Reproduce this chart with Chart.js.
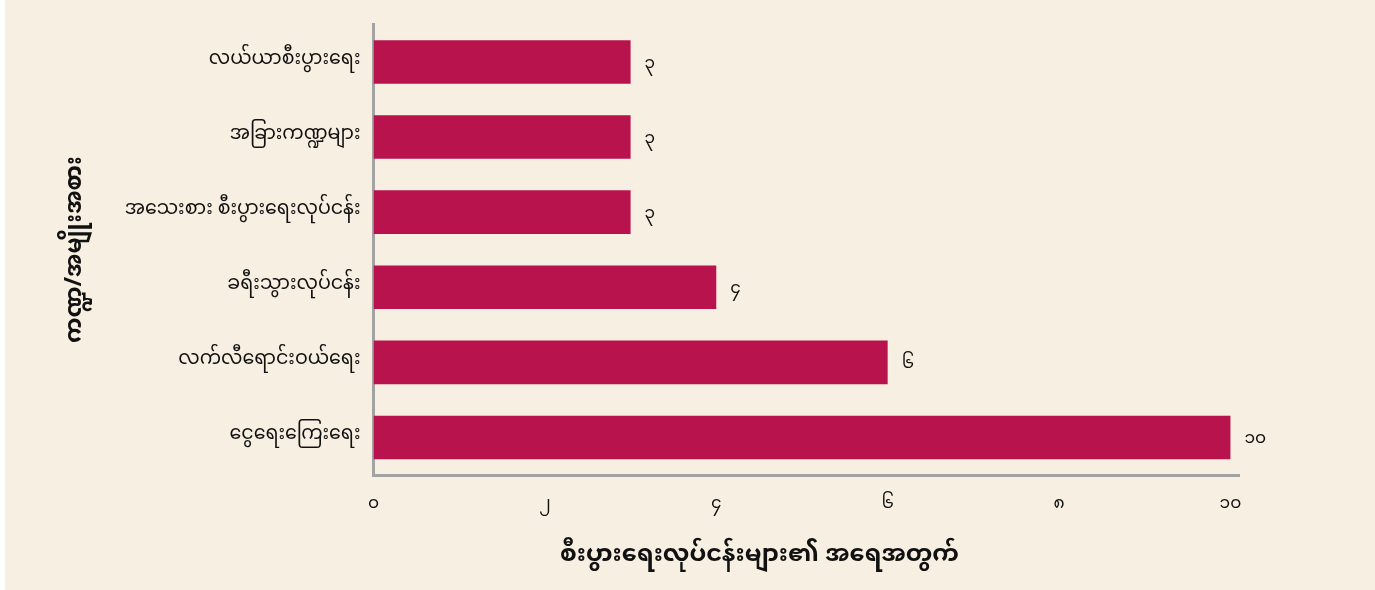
<!DOCTYPE html>
<html>
<head>
<meta charset="utf-8">
<script src="https://cdn.jsdelivr.net/npm/chart.js@4.4.1/dist/chart.umd.min.js"></script>
<style>
  body { margin: 0; background: #ffffff; }
  #chart { position: absolute; left: 5px; top: 0; width: 1370px; height: 590px; background: #f7efe1; }
</style>
</head>
<body>
<div id="chart"><canvas id="myChart" width="1370" height="590"></canvas></div>
<script>
// chart data
var categories = ['လယ်ယာစီးပွားရေး', 'အခြားကဏ္ဍများ', 'အသေးစား စီးပွားရေးလုပ်ငန်း', 'ခရီးသွားလုပ်ငန်း', 'လက်လီရောင်းဝယ်ရေး', 'ငွေရေးကြေးရေး'];
var counts = [3, 3, 3, 4, 6, 10];
var tickValues = [0, 2, 4, 6, 8, 10];
var myanmarDigits = ['၀', '၁', '၂', '၃', '၄', '၅', '၆', '၇', '၈', '၉'];
var xTitle = 'စီးပွားရေးလုပ်ငန်းများ၏ အရေအတွက်';
var yTitle = 'ကဏ္ဍ/အမျိုးအစား';

var fontFamily = "'Noto Sans Myanmar', 'Padauk', 'Myanmar Text', 'Noto Sans', sans-serif";

function toMyanmar(n) {
    return String(n).split('').map(function (d) { return myanmarDigits[+d]; }).join('');
}

// value labels next to each bar
var barLabels = {
    id: 'barLabels',
    afterDatasetsDraw: function (chart) {
        var ctx = chart.ctx;
        var meta = chart.getDatasetMeta(0);
        ctx.save();
        ctx.fillStyle = '#111111';
        ctx.font = '17px ' + fontFamily;
        ctx.textAlign = 'left';
        ctx.textBaseline = 'middle';
        meta.data.forEach(function (bar, i) {
            ctx.fillText(toMyanmar(counts[i]), bar.x + 14, bar.y + 4);
        });
        ctx.restore();
    }
};

// x title sits a bit left of the axis centre in the original
var bottomTitle = {
    id: 'bottomTitle',
    afterDraw: function (chart) {
        var ctx = chart.ctx;
        var area = chart.chartArea;
        ctx.save();
        ctx.fillStyle = '#111111';
        ctx.font = 'bold 24px ' + fontFamily;
        ctx.textAlign = 'center';
        ctx.textBaseline = 'middle';
        ctx.fillText(xTitle, area.left + (area.right - area.left) * 0.446, 558);
        ctx.restore();
    }
};

var ctx = document.getElementById('myChart').getContext('2d');
var myChart = new Chart(ctx, {
    type: 'bar',
    data: {
        labels: categories,
        datasets: [{
            data: counts,
            backgroundColor: '#b8134c',
            borderWidth: 0,
            barPercentage: 0.58,
            categoryPercentage: 1
        }]
    },
    options: {
        indexAxis: 'y',
        responsive: false,
        animation: false,
        layout: { padding: { left: 60, top: 19, right: 136, bottom: 0 } },
        plugins: {
            legend: { display: false },
            tooltip: { enabled: false }
        },
        scales: {
            x: {
                min: 0,
                max: 10.1,
                afterBuildTicks: function (axis) {
                    axis.ticks = tickValues.map(function (v) { return { value: v }; });
                },
                afterFit: function (axis) {
                    axis.height = 115;
                },
                grid: { display: false, drawTicks: false },
                border: { display: true, color: '#a3a3a3', width: 3 },
                ticks: {
                    padding: 21,
                    color: '#111111',
                    font: { family: fontFamily, size: 17 },
                    maxRotation: 0,
                    callback: function (v) { return toMyanmar(v); }
                }
            },
            y: {
                afterFit: function (axis) {
                    axis.width = 308.5;
                },
                grid: { display: false, drawTicks: false },
                border: { display: true, color: '#a3a3a3', width: 3 },
                ticks: {
                    padding: 13,
                    color: '#111111',
                    font: { family: fontFamily, size: 19 }
                },
                title: {
                    display: true,
                    text: yTitle,
                    color: '#111111',
                    font: { family: fontFamily, size: 23, weight: 'bold' },
                    padding: { top: 0, bottom: 0 }
                }
            }
        }
    },
    plugins: [barLabels, bottomTitle]
});
</script>
</body>
</html>
